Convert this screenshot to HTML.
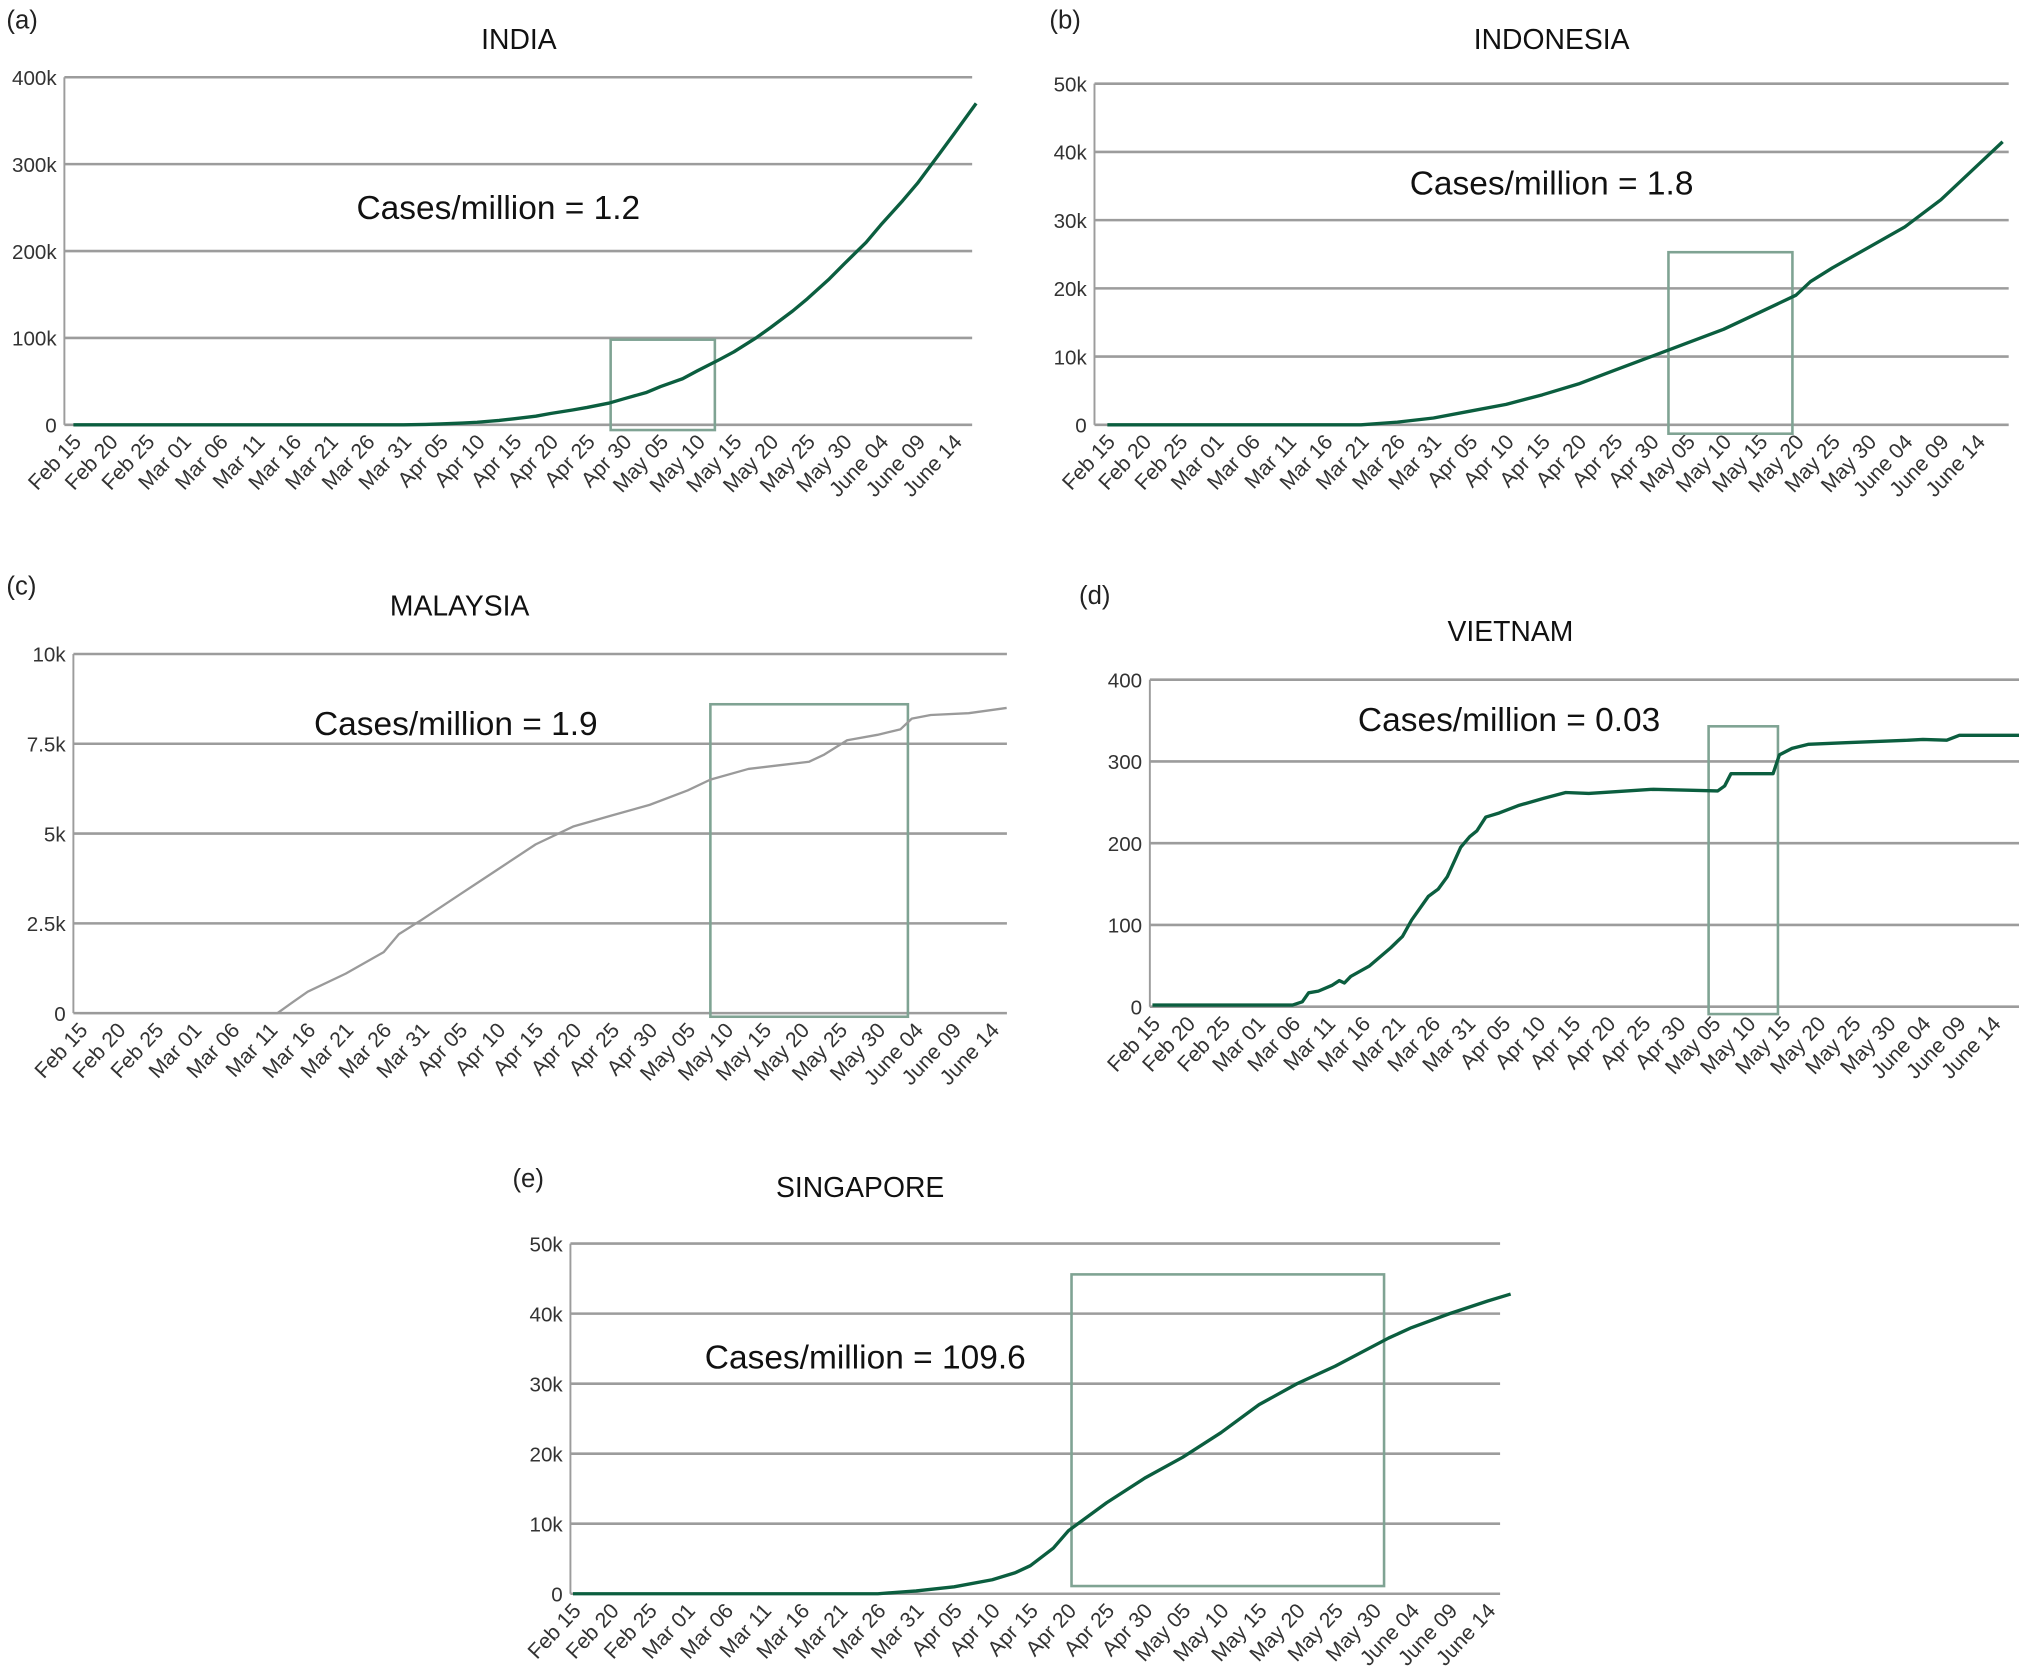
<!DOCTYPE html>
<html><head><meta charset="utf-8"><style>
html,body{margin:0;padding:0;background:#fff;}
svg{display:block;font-family:"Liberation Sans",sans-serif;}
</style></head><body>
<svg id="fig" width="2019" height="1680" viewBox="0 0 1568 1305" preserveAspectRatio="none" xmlns="http://www.w3.org/2000/svg"></svg>
<script>
const dateLabels = ["Feb 15","Feb 20","Feb 25","Mar 01","Mar 06","Mar 11","Mar 16","Mar 21","Mar 26","Mar 31","Apr 05","Apr 10","Apr 15","Apr 20","Apr 25","Apr 30","May 05","May 10","May 15","May 20","May 25","May 30","June 04","June 09","June 14"];
const indiaDays = [0,45,48,50,53,55,58,60,63,65,68,70,73,75,78,80,83,85,88,90,93,95,98,100,103,105,108,110,113,115,118,120,123];
const indiaValues = [0,0,0.5,1,2,3,5,7,10,13,17,20,25,30,37,44,53,62,75,84,100,112,131,145,168,185,210,230,258,278,312,335,370];
const indonesiaDays = [0,35,40,45,50,55,60,65,70,75,80,85,90,95,97,100,105,110,115,120,123.5];
const indonesiaValues = [0,0,0.4,1,2,3,4.4,6,8,10,12,14,16.5,19,21,23,26,29,33,38,41.5];
const malaysiaDays = [26,28,30,35,40,42,45,50,55,60,65,70,75,80,83,88,92,96,98,101,105,108,109.5,112,117,122];
const malaysiaValues = [0,0.3,0.6,1.1,1.7,2.2,2.6,3.3,4.0,4.7,5.2,5.5,5.8,6.2,6.5,6.8,6.9,7.0,7.2,7.6,7.75,7.9,8.2,8.3,8.35,8.5];
const vietnamDays = [0,20,21.4,22.3,23.7,25.6,26.7,27.4,28.3,31,32.5,34,35.7,37,39.4,40.8,42.1,44,45.3,46.3,47.6,49.5,52.2,55.9,59,62.3,71.5,80.7,81.7,82.6,88.6,89.5,91.3,93.6,99,108,110,113.4,115.2,123.8];
const vietnamValues = [2,2,6,17,19,26,32,29,37,50,61,72,86,106,135,144,159,195,208,215,232,237,246,255,262,261,266,264,270,285,285,308,316,321,323,326,327,326,332,332];
const singaporeDays = [0,40,45,50,55,58,60,63,65,70,75,80,85,90,95,100,107,110,115,120,123];
const singaporeValues = [0,0,0.4,1,2,3,4,6.5,9,13,16.5,19.5,23,27,30,32.5,36.5,38,40,41.8,42.8];
const indiaTicks = ["0","100k","200k","300k","400k"];
const indonesiaTicks = ["0","10k","20k","30k","40k","50k"];
const malaysiaTicks = ["0","2.5k","5k","7.5k","10k"];
const vietnamTicks = ["0","100","200","300","400"];
const singaporeTicks = ["0","10k","20k","30k","40k","50k"];
const indiaBox = [73.2,87.4,-6,98];
const indonesiaBox = [77.4,94.5,-1.3,25.3];
const malaysiaBox = [83,109,-0.1,8.6];
const vietnamBox = [79.4,89.3,-9,343];
const singaporeBox = [65.4,106.4,1.1,45.6];

const NS="http://www.w3.org/2000/svg";
const svg=document.getElementById('fig');
function mk(tag,attrs,parent){const e=document.createElementNS(NS,tag);for(const k in attrs)e.setAttribute(k,attrs[k]);(parent||svg).appendChild(e);return e;}

const panels=[
 {key:'india',letter:'(a)',lx:5,ly:22,title:'INDIA',tx:403,ty:38,note:'Cases/million = 1.2',nx:387,ny:170,left:50,right:755,d0:57,ppd:5.7,top:60,bottom:330,max:400,days:indiaDays,vals:indiaValues,ticks:indiaTicks,box:indiaBox,color:'#0b5e3f',w:2.6},
 {key:'indonesia',letter:'(b)',lx:815,ly:22,title:'INDONESIA',tx:1205,ty:38,note:'Cases/million = 1.8',nx:1205,ny:151,left:850,right:1560,d0:860,ppd:5.63,top:65,bottom:330,max:50,days:indonesiaDays,vals:indonesiaValues,ticks:indonesiaTicks,box:indonesiaBox,color:'#0b5e3f',w:2.6},
 {key:'malaysia',letter:'(c)',lx:5,ly:462,title:'MALAYSIA',tx:357,ty:478,note:'Cases/million = 1.9',nx:354,ny:571,left:57,right:782,d0:62,ppd:5.9,top:508,bottom:787,max:10,days:malaysiaDays,vals:malaysiaValues,ticks:malaysiaTicks,box:malaysiaBox,color:'#9a9a9a',w:1.8},
 {key:'vietnam',letter:'(d)',lx:838,ly:469,title:'VIETNAM',tx:1173,ty:498,note:'Cases/million = 0.03',nx:1172,ny:568,left:893,right:1568,d0:895,ppd:5.44,top:528,bottom:782,max:400,days:vietnamDays,vals:vietnamValues,ticks:vietnamTicks,box:vietnamBox,color:'#0b5e3f',w:2.6},
 {key:'singapore',letter:'(e)',lx:398,ly:922,title:'SINGAPORE',tx:668,ty:930,note:'Cases/million = 109.6',nx:672,ny:1063,left:443,right:1165,d0:445,ppd:5.92,top:966,bottom:1238,max:50,days:singaporeDays,vals:singaporeValues,ticks:singaporeTicks,box:singaporeBox,color:'#0b5e3f',w:2.6}
];

panels.forEach(p=>{
  const g=mk('g',{});
  
  
  const X=d=>p.d0+d*p.ppd;
  const Y=v=>p.bottom-(v/p.max)*(p.bottom-p.top);
  const l=mk('text',{x:p.lx,y:p.ly,'font-size':20,fill:'#222'},g);l.textContent=p.letter;
  
  
  const t=mk('text',{x:p.tx,y:p.ty,'font-size':22,fill:'#111','text-anchor':'middle'},g);t.textContent=p.title;
  
  
  const n=p.ticks.length-1;
  p.ticks.forEach((lab,i)=>{
    const v=p.max*i/n, y=Y(v);
    const gl=mk('line',{x1:p.left,x2:p.right,y1:y,y2:y,stroke:'#9c9c9c','stroke-width':2},g);
    
    
    const tl=mk('text',{x:p.left-6,y:y+6,'font-size':16,fill:'#333','text-anchor':'end'},g);tl.textContent=lab;
    
    
  });
  const ax=mk('line',{x1:p.left,x2:p.left,y1:p.top,y2:p.bottom,stroke:'#9c9c9c','stroke-width':1.5},g);
  
  
  dateLabels.forEach((lab,i)=>{
    const x=X(i*5)+7, y=p.bottom+14;
    const xl=mk('text',{x:x,y:y,'font-size':16.5,fill:'#333','text-anchor':'end',transform:`rotate(-47 ${x} ${y})`},g);xl.textContent=lab;
    
    
  });
  const nt=mk('text',{x:p.nx,y:p.ny,'font-size':26,fill:'#111','text-anchor':'middle'},g);nt.textContent=p.note;
  
  
  const b=p.box;
  const bx=mk('rect',{x:X(b[0]),y:Y(b[3]),width:X(b[1])-X(b[0]),height:Y(b[2])-Y(b[3]),fill:'none',stroke:'#7fa393','stroke-width':2},g);
  
  
  let dstr='';
  if(p.days[0]>0){dstr='M'+X(0)+','+Y(0)+' ';}
  p.days.forEach((d,i)=>{dstr+=(dstr?'L':'M')+X(d).toFixed(1)+','+Y(p.vals[i]).toFixed(1)+' ';});
  const ln=mk('path',{d:dstr,fill:'none',stroke:p.color,'stroke-width':p.w,'stroke-linejoin':'round'},g);
  
  
});
</script>
</body></html>
